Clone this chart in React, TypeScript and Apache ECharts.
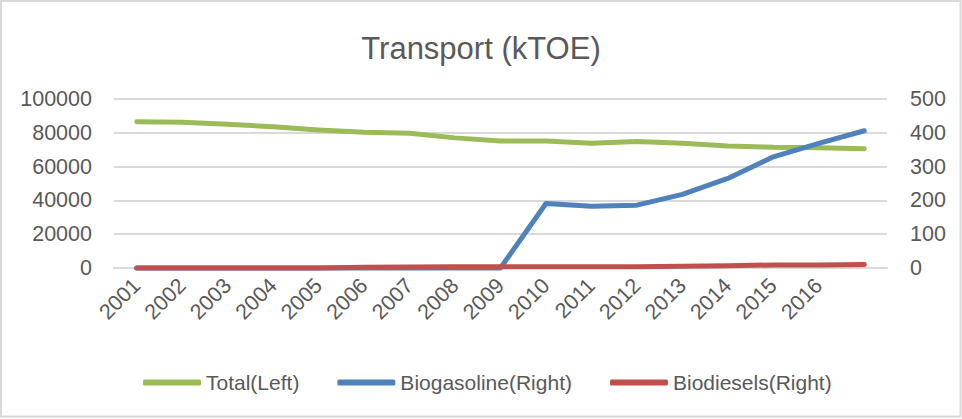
import React, { useEffect, useRef } from "react";
import * as echarts from "echarts";

const categories = ["2001","2002","2003","2004","2005","2006","2007","2008","2009","2010","2011","2012","2013","2014","2015","2016",""];
const totalLeft = [86600, 86200, 85000, 83600, 81700, 80300, 79700, 77000, 75100, 75100, 73800, 74800, 73800, 72200, 71400, 71200, 70600];
const biogasolineRight = [0, 0, 0, 0, 0, 0, 0, 0, 0, 191, 183, 186, 218, 265, 329, 369, 406];
const biodieselsRight = [0, 0, 0, 0, 0, 2, 3, 4, 4, 4, 4, 4, 5, 7, 9, 9, 10];
const leftTicks = { min: 0, max: 100000, interval: 20000 };
const rightTicks = { min: 0, max: 500, interval: 100 };

const FONT = "'Liberation Sans', Arial, sans-serif";
const TXT = "#595959";

export default function App() {
  const ref = useRef<HTMLDivElement>(null);
  useEffect(() => {
    if (!ref.current) return;
    const chart = echarts.init(ref.current, null, { renderer: "svg" });
    chart.setOption({
      animation: false,
      backgroundColor: "#ffffff",
      textStyle: { fontFamily: FONT },
      title: {
        text: "Transport (kTOE)",
        left: "center",
        top: 28,
        textStyle: { fontSize: 31, fontWeight: "normal", color: TXT, fontFamily: FONT },
      },
      graphic: [
        {
          type: "rect",
          shape: { x: 1, y: 1, width: 959.5, height: 415.5 },
          style: { fill: "none", stroke: "#d9d9d9", lineWidth: 2 },
          silent: true,
        },
      ],
      legend: {
        left: 138,
        top: 367,
        itemWidth: 58,
        itemHeight: 6,
        itemGap: 38,
        icon: "roundRect",
        textStyle: { fontSize: 21, color: TXT, fontFamily: FONT },
        data: ["Total(Left)", "Biogasoline(Right)", "Biodiesels(Right)"],
      },
      grid: { left: 114, right: 75, top: 99, bottom: 151, containLabel: false },
      xAxis: {
        type: "category",
        data: categories,
        boundaryGap: true,
        axisLine: { show: true, lineStyle: { color: "#d9d9d9", width: 2 } },
        axisTick: { show: false },
        axisLabel: {
          interval: 0,
          rotate: 45,
          margin: 14,
          fontSize: 21.5,
          color: TXT,
          fontFamily: FONT,
        },
      },
      yAxis: [
        {
          type: "value",
          min: leftTicks.min,
          max: leftTicks.max,
          interval: leftTicks.interval,
          position: "left",
          axisLine: { show: false },
          axisTick: { show: false },
          splitLine: { show: true, lineStyle: { color: "#d9d9d9", width: 2 } },
          axisLabel: {
            margin: 22,
            fontSize: 21.5,
            color: TXT,
            fontFamily: FONT,
            formatter: (v: number) => String(v),
          },
        },
        {
          type: "value",
          min: rightTicks.min,
          max: rightTicks.max,
          interval: rightTicks.interval,
          position: "right",
          axisLine: { show: false },
          axisTick: { show: false },
          splitLine: { show: false },
          axisLabel: {
            margin: 23,
            fontSize: 21.5,
            color: TXT,
            fontFamily: FONT,
            formatter: (v: number) => String(v),
          },
        },
      ],
      series: [
        {
          name: "Total(Left)",
          type: "line",
          yAxisIndex: 0,
          data: totalLeft,
          showSymbol: false,
          symbol: "none",
          clip: false,
          lineStyle: { color: "#9bbb59", width: 5, cap: "round", join: "round" },
          itemStyle: { color: "#9bbb59" },
          z: 3,
        },
        {
          name: "Biogasoline(Right)",
          type: "line",
          yAxisIndex: 1,
          data: biogasolineRight,
          showSymbol: false,
          symbol: "none",
          clip: false,
          lineStyle: { color: "#4f81bd", width: 5, cap: "round", join: "round" },
          itemStyle: { color: "#4f81bd" },
          z: 4,
        },
        {
          name: "Biodiesels(Right)",
          type: "line",
          yAxisIndex: 1,
          data: biodieselsRight,
          showSymbol: false,
          symbol: "none",
          clip: false,
          lineStyle: { color: "#c0504d", width: 5, cap: "round", join: "round" },
          itemStyle: { color: "#c0504d" },
          z: 5,
        },
      ],
    });
    return () => chart.dispose();
  }, []);
  return (
    <div
      ref={ref}
      style={{ position: "absolute", left: 0, top: 0, width: 962, height: 419, background: "#fff" }}
    />
  );
}
